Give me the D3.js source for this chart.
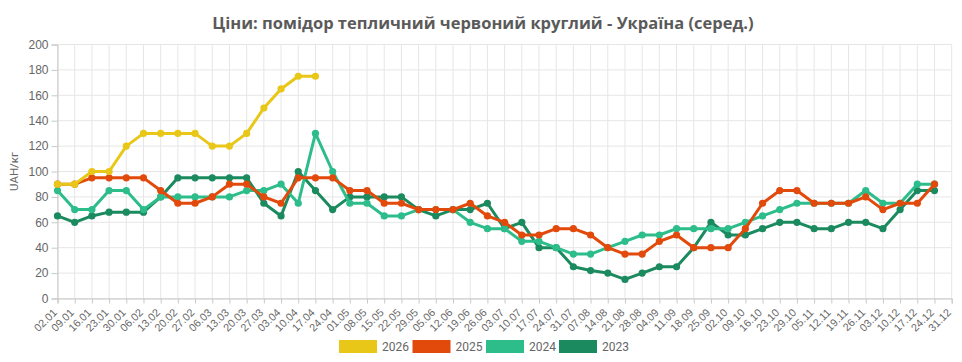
<!DOCTYPE html>
<html>
<head>
<meta charset="utf-8">
<script src="https://cdn.jsdelivr.net/npm/d3@7"></script>
<style>
  body { margin: 0; background: #fff; }
  svg { display: block; }
</style>
</head>
<body>
<div id="chart"></div>
<script>
// weekly dates (x axis)
const weeks = ['02.01','09.01','16.01','23.01','30.01','06.02','13.02','20.02','27.02','06.03','13.03','20.03','27.03',
  '03.04','10.04','17.04','24.04','01.05','08.05','15.05','22.05','29.05','05.06','12.06','19.06','26.06',
  '03.07','10.07','17.07','24.07','31.07','07.08','14.08','21.08','28.08','04.09','11.09','18.09','25.09',
  '02.10','09.10','16.10','23.10','29.10','05.11','12.11','19.11','26.11','03.12','10.12','17.12','24.12','31.12'];

const yTicks = [0, 20, 40, 60, 80, 100, 120, 140, 160, 180, 200];

const years = ['2026', '2025', '2024', '2023'];
const colors = ['#e8c718', '#e24a0c', '#2dbd8b', '#1b8a5f'];

// prices, UAH/kg
const v2026 = [90,90,100,100,120,130,130,130,130,120,120,130,150,165,175,175];
const v2025 = [90,90,95,95,95,95,85,75,75,80,90,90,80,75,95,95,95,85,85,75,75,70,70,70,75,65,
  60,50,50,55,55,50,40,35,35,45,50,40,40,40,55,75,85,85,75,75,75,80,70,75,75,90];
const v2024 = [85,70,70,85,85,70,80,80,80,80,80,85,85,90,75,130,100,75,75,65,65,70,70,70,60,55,
  55,45,45,40,35,35,40,45,50,50,55,55,55,55,60,65,70,75,75,75,75,85,75,75,90,90];
const v2023 = [65,60,65,68,68,68,80,95,95,95,95,95,75,65,100,85,70,80,80,80,80,70,65,70,70,75,
  55,60,40,40,25,22,20,15,20,25,25,40,60,50,50,55,60,60,55,55,60,60,55,70,85,85];

const series = [v2026, v2025, v2024, v2023];

const W = 962, H = 362;
const margin = { top: 44.5, right: 10.3, bottom: 63.5, left: 57.5 };

const svg = d3.select('#chart').append('svg')
    .attr('width', W)
    .attr('height', H)
    .style('font-family', 'Roboto, sans-serif');

const x = d3.scalePoint()
    .domain(weeks)
    .range([margin.left, W - margin.right]);

const y = d3.scaleLinear()
    .domain([0, 200])
    .range([H - margin.bottom, margin.top]);

// title
svg.append('text')
    .attr('x', 483)
    .attr('y', 29)
    .attr('text-anchor', 'middle')
    .style('font-family', '"Open Sans", sans-serif')
    .style('font-weight', 700)
    .style('font-size', '16.5px')
    .style('fill', '#5a5a5a')
    .text('Ціни: помідор тепличний червоний круглий - Україна (серед.)');

// grid
const grid = svg.append('g');
grid.selectAll('.vg')
    .data(weeks)
    .enter()
    .append('line')
    .attr('x1', d => x(d)).attr('x2', d => x(d))
    .attr('y1', margin.top).attr('y2', H - margin.bottom)
    .attr('stroke', '#e6e6e6')
    .attr('stroke-width', 1);
grid.selectAll('.hg')
    .data(yTicks)
    .enter()
    .append('line')
    .attr('x1', margin.left).attr('x2', W - margin.right)
    .attr('y1', d => y(d)).attr('y2', d => y(d))
    .attr('stroke', '#e6e6e6')
    .attr('stroke-width', 1);

// y axis
const yAxis = svg.append('g')
    .attr('transform', `translate(${margin.left},0)`)
    .call(d3.axisLeft(y).tickValues(yTicks).tickSize(6).tickPadding(3));
yAxis.select('.domain').attr('stroke', '#c8c8c8');
yAxis.selectAll('.tick line').attr('stroke', '#c8c8c8');
yAxis.selectAll('.tick text')
    .style('font-size', '12px')
    .style('fill', '#666');

// x axis, labels rotated so they end just under the tick
const xAxis = svg.append('g')
    .attr('transform', `translate(0,${H - margin.bottom})`)
    .call(d3.axisBottom(x).tickSize(5));
xAxis.select('.domain').attr('stroke', '#c8c8c8');
xAxis.selectAll('.tick line').attr('stroke', '#c8c8c8');
xAxis.selectAll('.tick text')
    .attr('x', 0)
    .attr('y', 0)
    .attr('dy', '0.35em')
    .attr('text-anchor', 'end')
    .attr('transform', 'translate(-3,12) rotate(-45)')
    .style('font-size', '10.8px')
    .style('fill', '#666');

// y axis label
svg.append('text')
    .attr('transform', `translate(18,${(margin.top + H - margin.bottom) / 2}) rotate(-90)`)
    .attr('text-anchor', 'middle')
    .style('font-size', '11.5px')
    .style('fill', '#666')
    .text('UAH/кг');

// lines, drawn oldest first so 2026 is on top
const line = d3.line()
    .x((d, i) => x(weeks[i]))
    .y(d => y(d));

const order = [3, 2, 1, 0];
order.forEach(k => {
    const g = svg.append('g');
    g.append('path')
        .datum(series[k])
        .attr('d', line)
        .attr('fill', 'none')
        .attr('stroke', colors[k])
        .attr('stroke-width', 3)
        .attr('stroke-linejoin', 'round');
    g.selectAll('circle')
        .data(series[k])
        .enter()
        .append('circle')
        .attr('cx', (d, i) => x(weeks[i]))
        .attr('cy', d => y(d))
        .attr('r', 3.6)
        .attr('fill', colors[k]);
});

// legend
const legend = svg.append('g');
const legX = [339, 412.5, 486, 559];
years.forEach((yr, i) => {
    legend.append('rect')
        .attr('x', legX[i])
        .attr('y', 340)
        .attr('width', 38)
        .attr('height', 13)
        .attr('fill', colors[i]);
    legend.append('text')
        .attr('x', legX[i] + 43)
        .attr('y', 351)
        .style('font-size', '12px')
        .style('fill', '#666')
        .text(yr);
});
</script>
</body>
</html>
